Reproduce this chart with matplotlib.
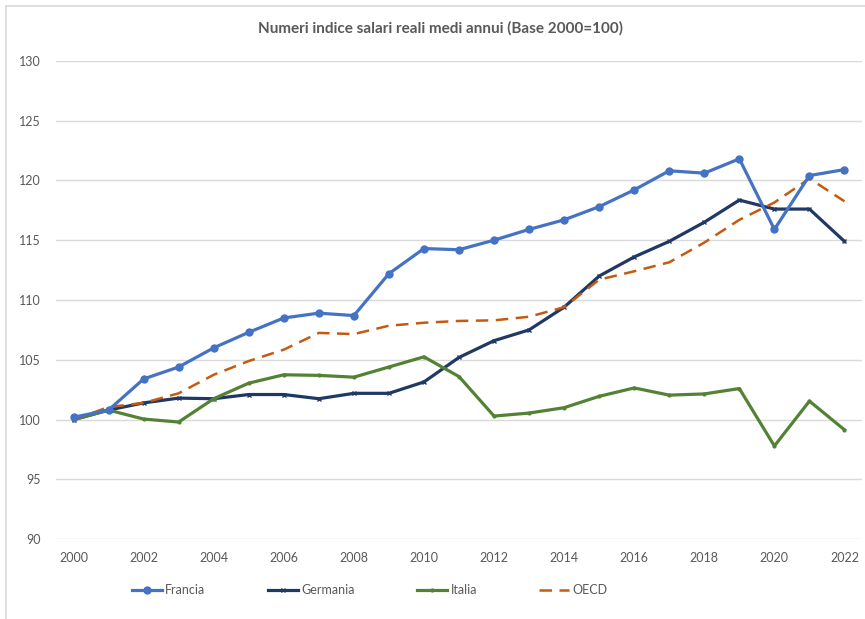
import matplotlib
matplotlib.use("Agg")
import matplotlib.pyplot as plt
from matplotlib.patches import Rectangle

plt.rcParams["font.family"] = ["Lato", "DejaVu Sans"]

# ---------------------------------------------------------------------------
# Data
# ---------------------------------------------------------------------------

years = list(range(2000, 2023))

francia = [100.2, 100.8, 103.4, 104.4, 106.0, 107.3, 108.5, 108.9, 108.7, 112.2,
           114.3, 114.2, 115.0, 115.9, 116.7, 117.8, 119.2, 120.8, 120.6, 121.8,
           115.9, 120.4, 120.9]
germania = [100.0, 100.8, 101.4, 101.8, 101.75, 102.1, 102.1, 101.75, 102.2, 102.2,
            103.15, 105.2, 106.6, 107.5, 109.4, 112.0, 113.6, 114.9, 116.5, 118.35,
            117.6, 117.6, 114.9]
italia = [100.0, 100.8, 100.05, 99.8, 101.75, 103.05, 103.75, 103.7, 103.55, 104.4,
          105.25, 103.6, 100.3, 100.55, 101.0, 101.95, 102.65, 102.05, 102.15, 102.6,
          97.8, 101.55, 99.15]
oecd = [100.0, 101.05, 101.4, 102.2, 103.75, 104.9, 105.85, 107.25, 107.15, 107.85,
        108.1, 108.25, 108.3, 108.6, 109.4, 111.7, 112.4, 113.15, 114.8, 116.7,
        118.15, 120.15, 118.25]

x_ticks = list(range(2000, 2023, 2))
y_ticks = list(range(90, 131, 5))

TITLE = "Numeri indice salari reali medi annui (Base 2000=100)"
TEXT_GRAY = "#595959"

# ---------------------------------------------------------------------------
# Plot
# ---------------------------------------------------------------------------

fig = plt.figure(figsize=(8.65, 6.19), dpi=100)
ax = fig.add_axes([56 / 865, 1 - 539.3 / 619, (862 - 56) / 865, (539.3 - 60.7) / 619])

# light chart-area border (runs off the right/bottom edge of the picture)
fig.patches.append(Rectangle((6 / 865, -0.1), 1.2, 1.1 - 6 / 619,
                             transform=fig.transFigure, fill=False,
                             edgecolor="#D9D9D9", linewidth=1.2, zorder=0))

ax.plot(years, francia, color="#4472C4", linewidth=2.3, marker="o",
        markersize=5, label="Francia", zorder=4)
ax.plot(years, germania, color="#203864", linewidth=2.3, marker="x",
        markersize=3, markeredgewidth=1, label="Germania", zorder=3)
ax.plot(years, italia, color="#548235", linewidth=2.3, marker="o",
        markersize=2, label="Italia", zorder=3)
ax.plot(years, oecd, color="#C55A11", linewidth=1.8, linestyle=(0, (5, 3)),
        label="OECD", zorder=3)

ax.set_xlim(1999.5, 2022.5)
ax.set_ylim(90, 130)
ax.set_xticks(x_ticks)
ax.set_yticks(y_ticks)
ax.tick_params(length=0, labelsize=9, labelcolor=TEXT_GRAY)
ax.tick_params(axis="y", pad=11)
ax.tick_params(axis="x", pad=9)
ax.grid(axis="y", color="#D9D9D9", linewidth=1)
ax.set_axisbelow(True)
for spine in ax.spines.values():
    spine.set_visible(False)

fig.text(440 / 865, 1 - 28 / 619, TITLE, ha="center", va="center",
         fontsize=11, fontweight="bold", color=TEXT_GRAY)

leg = fig.legend(loc="center left", bbox_to_anchor=(121 / 865, 1 - 590 / 619),
                 ncol=4, frameon=False, fontsize=9, handlelength=2.4,
                 handletextpad=0.25, columnspacing=5.0, labelcolor=TEXT_GRAY)

fig.savefig("out.png", dpi=100)
